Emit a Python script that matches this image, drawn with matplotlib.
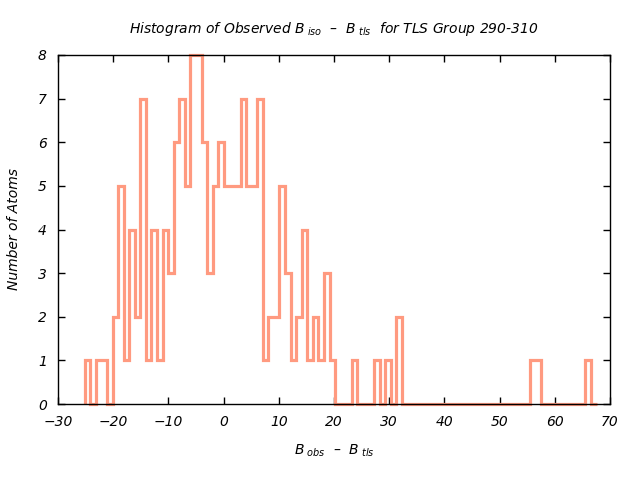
import numpy as np
import matplotlib
matplotlib.use("Agg")
import matplotlib.pyplot as plt

plt.rcParams['mathtext.fontset'] = 'custom'
plt.rcParams['mathtext.rm'] = 'DejaVu Sans:italic'
plt.rcParams['mathtext.it'] = 'DejaVu Sans:italic'
plt.rcParams['font.style'] = 'italic'

# histogram counts per bin
counts = [1, 0, 1, 1, 0, 2, 5, 1, 4, 2, 7, 1, 4, 1, 4, 3, 6, 7, 5, 8,
          8, 6, 3, 5, 6, 5, 5, 5, 7, 5, 5, 7, 1, 2, 2, 5, 3, 1, 2, 4,
          1, 2, 1, 3, 1, 0, 0, 0, 1, 0, 0, 0, 1, 0, 1, 0, 2,
          0, 0, 0, 0, 0, 0, 0, 0, 0, 0, 0, 0, 0, 0, 0, 0, 0, 0, 0, 0, 0, 0, 0,
          1, 1, 0, 0, 0, 0, 0, 0, 0, 0, 1, 0]
bin_start = -25.16
bin_width = 1.008
edges = bin_start + bin_width * np.arange(len(counts) + 1)

xticks = np.arange(-30, 71, 10)
yticks = np.arange(0, 9, 1)

fig = plt.figure(figsize=(6.4, 4.8), dpi=100)
ax = fig.add_axes([58/640, 1-404/480, 552/640, 349/480])

ax.stairs(counts, edges, color='#ff9a80', linewidth=2.3, zorder=3, clip_on=False)

ax.set_xlim(-30, 70)
ax.set_ylim(0, 8)
ax.set_xticks(xticks)
ax.set_yticks(yticks)
ax.tick_params(direction='in', top=True, right=True, length=5, width=1,
               labelsize=10, pad=8)
for s in ax.spines.values():
    s.set_linewidth(1)
    s.set_zorder(4)

ax.set_title(r"Histogram of Observed $B_{\ iso}$  –  $B_{\ tls}$  for TLS Group 290-310",
             fontsize=10, pad=16)
ax.set_xlabel(r"$B_{\ obs}$  –  $B_{\ tls}$", fontsize=10, labelpad=10)
ax.set_ylabel("Number of Atoms", fontsize=10, labelpad=12)

fig.savefig("out.png", dpi=100)
